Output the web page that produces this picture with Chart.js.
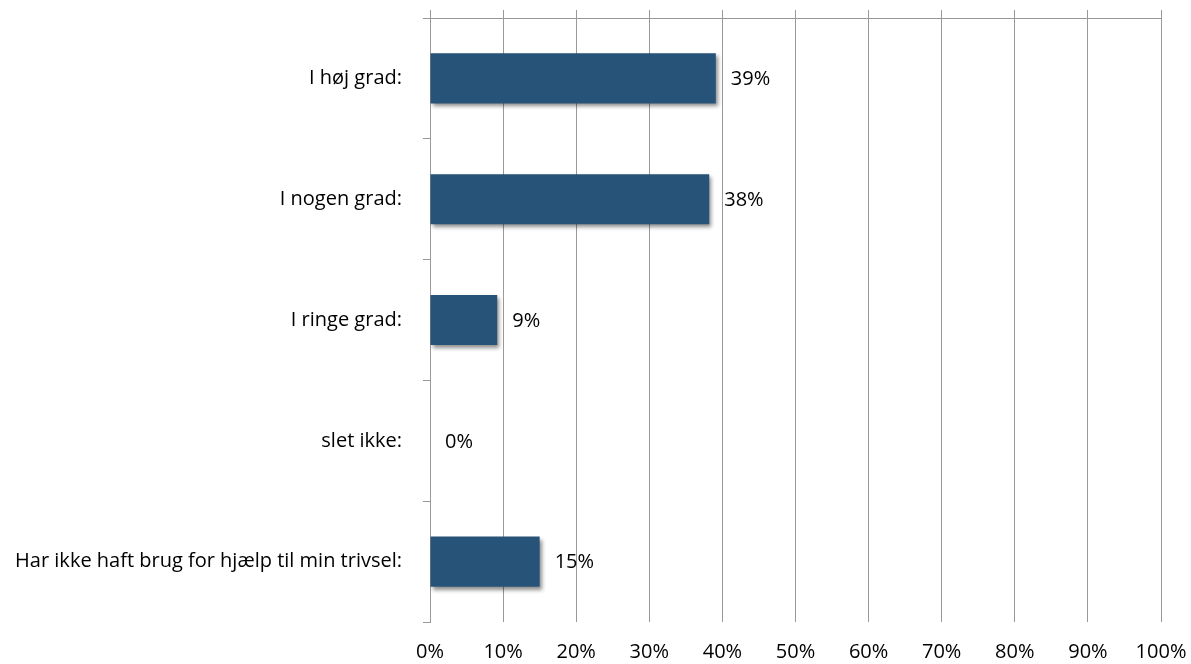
<!DOCTYPE html>
<html>
<head>
<meta charset="utf-8">
<script src="https://cdn.jsdelivr.net/npm/chart.js"></script>
<style>
  html, body { margin: 0; padding: 0; background: #fff; }
  #chart-wrapper { width: 1191px; height: 664px; }
</style>
</head>
<body>
<div id="chart-wrapper">
    <canvas id="my-chart"></canvas>
</div>
<script>
// data
const categories = ['I høj grad:', 'I nogen grad:', 'I ringe grad:', 'slet ikke:', 'Har ikke haft brug for hjælp til min trivsel:'];
const values = [39.1, 38.2, 9.2, 0, 15.0];
const valueLabels = ['39%', '38%', '9%', '0%', '15%'];

const FONT = '"Open Sans", "Noto Sans", sans-serif';
const FONT_SIZE = 20;
const GRID = '#999999';

// drop shadow under the bars + value labels
const barShadow = {
    id: 'barShadow',
    beforeDatasetsDraw(chart) {
        const c = chart.ctx;
        c.save();
        c.shadowColor = 'rgba(0,0,0,0.45)';
        c.shadowBlur = 4;
        c.shadowOffsetX = 2;
        c.shadowOffsetY = 3;
    },
    afterDatasetsDraw(chart) {
        chart.ctx.restore();
        const c = chart.ctx;
        const meta = chart.getDatasetMeta(0);
        c.save();
        c.font = FONT_SIZE + 'px ' + FONT;
        c.fillStyle = '#000';
        c.textBaseline = 'middle';
        c.textAlign = 'left';
        meta.data.forEach(function(bar, i) {
            c.fillText(valueLabels[i], bar.x + 15, bar.y + 1);
        });
        c.restore();
    }
};

const ctx = document.getElementById('my-chart');
const chart = new Chart(ctx, {
    type: 'bar',
    data: {
        labels: categories,
        datasets: [{
            data: values,
            backgroundColor: '#285379',
            borderWidth: 0,
            barPercentage: 0.5,
            categoryPercentage: 0.83,
            xAxisID: 'x'
        }]
    },
    options: {
        indexAxis: 'y',
        responsive: true,
        maintainAspectRatio: false,
        animation: false,
        layout: { padding: { left: 0, right: 30, top: 0, bottom: 0 } },
        plugins: {
            legend: { display: false },
            tooltip: { enabled: false }
        },
        scales: {
            x: {
                position: 'bottom',
                min: 0,
                max: 100,
                border: { display: false },
                grid: { color: GRID, drawTicks: false },
                ticks: {
                    stepSize: 10,
                    padding: 18,
                    color: '#000',
                    font: { family: FONT, size: FONT_SIZE },
                    callback: v => v + '%'
                },
                afterFit: s => { s.height = 42; s.paddingLeft = 0; s.paddingRight = 0; }
            },
            x2: {
                position: 'top',
                min: 0,
                max: 100,
                border: { display: true, color: GRID },
                grid: { color: GRID, drawOnChartArea: false, tickLength: 8 },
                ticks: { stepSize: 10, display: false },
                afterFit: s => { s.height = 18; s.paddingLeft = 0; s.paddingRight = 0; }
            },
            y: {
                offset: true,
                border: { display: true, color: GRID },
                grid: { offset: true, color: GRID, drawOnChartArea: false, tickLength: 7 },
                ticks: {
                    padding: 21,
                    color: '#000',
                    font: { family: FONT, size: FONT_SIZE }
                },
                afterFit: s => { s.width = 430; s.paddingTop = 0; s.paddingBottom = 0; }
            }
        }
    },
    plugins: [barShadow]
});
</script>
</body>
</html>
